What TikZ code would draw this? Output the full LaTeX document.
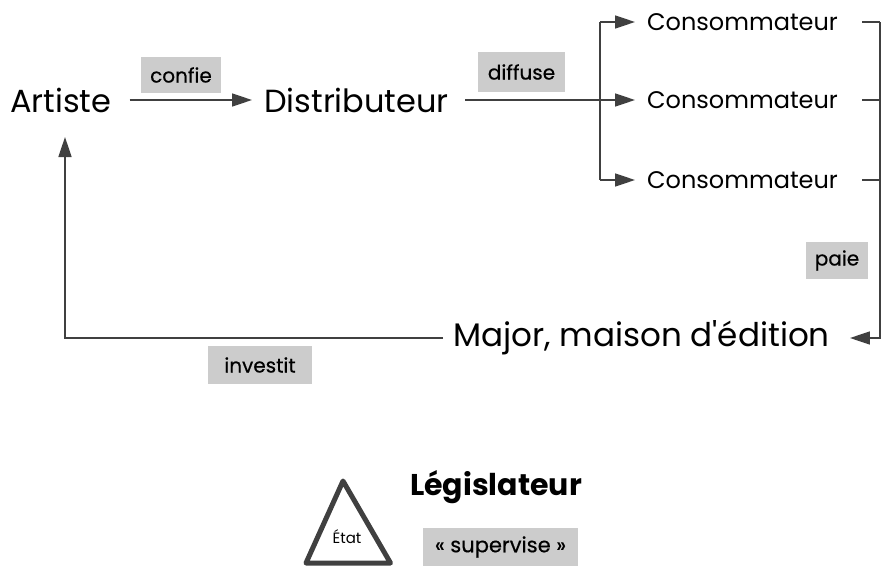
\documentclass[tikz,border=0pt]{standalone}
\usepackage{fontspec}
\setmainfont{Poppins}
\newfontfamily\lblfont[FakeBold=0.5]{Poppins}
\usetikzlibrary{arrows.meta}
\definecolor{ln}{HTML}{404040}
\definecolor{boxg}{HTML}{CCCCCC}
\tikzset{
  arr/.style={draw=ln, line width=1.6pt, -{Triangle[length=20pt,width=13pt]}},
  ln/.style={draw=ln, line width=1.6pt},
  big/.style={inner sep=0pt, font=\fontsize{32}{36}\selectfont},
  cons/.style={inner sep=0pt, font=\fontsize{24}{28}\selectfont},
  lbl/.style={fill=boxg, inner sep=0pt, font=\lblfont\fontsize{20}{24}\selectfont, minimum height=36pt},
}
\begin{document}
\begin{tikzpicture}[x=1pt,y=-1pt]
\useasboundingbox (0,0) rectangle (882,567);
\node[big, anchor=west] (art) at (10,100) {Artiste};
\node[big, anchor=west] (dist) at (264,100) {Distributeur};
\node[cons, anchor=west] (c1) at (647,22) {Consommateur};
\node[cons, anchor=west] (c2) at (647,100) {Consommateur};
\node[cons, anchor=west] (c3) at (647,180) {Consommateur};
\node[big, anchor=west, font=\fontsize{32.6}{38}\selectfont] (maj) at (453,338) {Major, maison d\textquotesingle édition};
\coordinate (bx) at (600,100);
\coordinate (rx) at (880,100);
\coordinate (lx) at (65,137);
\node[lbl, minimum width=80pt] (lconf) at (181,75) {confie};
\node[lbl, minimum width=87pt, minimum height=40pt] (ldiff) at (521.5,72) {diffuse};
\node[lbl, minimum width=62pt, minimum height=37pt] (lpaie) at (837,260.5) {paie};
\node[lbl, minimum width=104pt, minimum height=38pt] (linv) at (260,365) {investit};
\draw[arr] ([xshift=18pt]art.east) -- ([xshift=-12pt]dist.west);
\draw[arr] ([xshift=16pt]dist.east) -- ([xshift=-12pt]c2.west);
\draw[ln] (bx |- c1) -- (bx |- c3);
\draw[arr] (bx |- c1) -- ([xshift=-12pt]c1.west);
\draw[arr] (bx |- c3) -- ([xshift=-12pt]c3.west);
\draw[ln] ([xshift=24pt]c1.east) -- (rx |- c1);
\draw[ln] ([xshift=24pt]c2.east) -- (rx |- c2);
\draw[ln] ([xshift=24pt]c3.east) -- (rx |- c3);
\draw[arr] (rx |- c1) -- (rx |- maj) -- ([xshift=20pt]maj.east);
\draw[arr] ([xshift=-10pt]maj.west) -| (lx);
\draw[draw=ln, line width=5pt, line join=round] (343,481) -- (390.5,563) -- (306,563) -- cycle;
\node[inner sep=0pt, font=\fontsize{15}{18}\selectfont] (etat) at (347,537) {État};
\node[inner sep=0pt, anchor=west, font=\bfseries\fontsize{30}{34}\selectfont] (leg) at (410,487) {Législateur};
\node[lbl, minimum width=155pt, minimum height=38pt, font=\lblfont\fontsize{21}{25}\selectfont] (sup) at (500.5,547) {« supervise »};
\end{tikzpicture}
\end{document}
